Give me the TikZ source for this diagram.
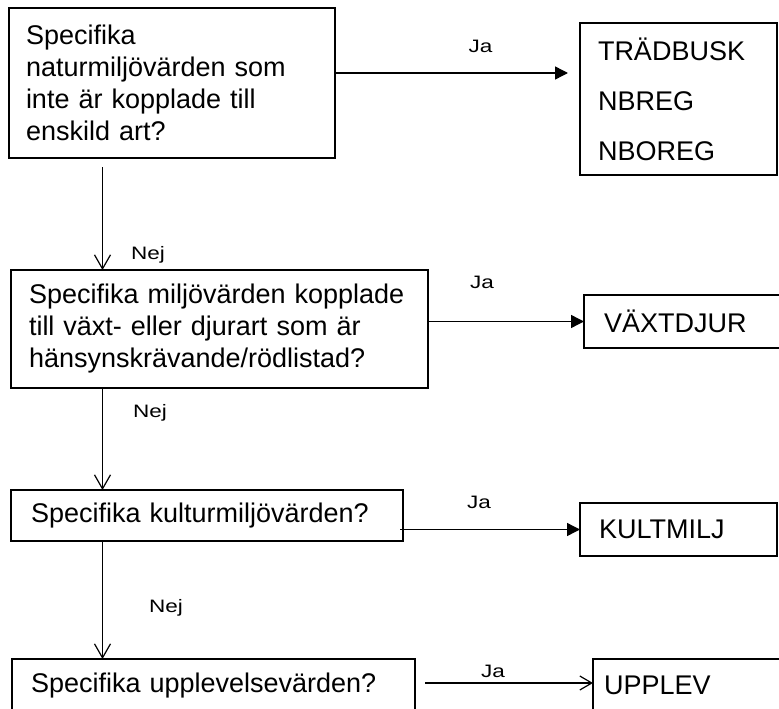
\documentclass[tikz,border=0pt]{standalone}
\usepackage{fontspec}
\setmainfont{Liberation Sans}
\newfontfamily\lblfam[FakeStretch=1.25]{Liberation Sans}
\usetikzlibrary{arrows.meta}
\newcommand\boxfont{\fontsize{27}{32}\selectfont}
\newcommand\listfont{\fontsize{27}{50}\selectfont}
\newcommand\lblfont{\lblfam\fontsize{18}{20}\selectfont}
\tikzset{
  box/.style={draw, line width=1.4pt, rectangle, inner ysep=0pt, outer sep=0pt, align=left, font=\boxfont, anchor=west},
  lbl/.style={font=\lblfont, anchor=base, inner sep=0pt},
  yesarrow/.style={line width=1.4pt, -{Triangle[length=13pt,width=13pt]}},
  noarrow/.style={line width=1.2pt, -{Straight Barb[length=14pt,width=16pt]}},
  noarrowsmall/.style={line width=1.2pt, -{Straight Barb[length=12pt,width=14pt]}},
}
\begin{document}
\begin{tikzpicture}[x=1pt,y=-1pt]
\useasboundingbox (0,0) rectangle (779,709);
\clip (0,0) rectangle (779,709);

% question boxes
\node[box, text width=292pt, inner xsep=17pt, minimum height=150pt] (b1) at (9,83)
  {Specifika\\naturmiljövärden som\\inte är kopplade till\\enskild art?};
\node[box, text width=381pt, inner xsep=18pt, minimum height=118pt] (b2) at (11,329)
  {Specifika miljövärden kopplade\\till växt- eller djurart som är\\hänsynskrävande/rödlistad?};
\node[box, text width=352pt, inner xsep=20pt, minimum height=51pt] (b3) at (11,515.5)
  {Specifika kulturmiljövärden?};
\node[box, text width=365pt, inner xsep=19pt, minimum height=53pt] (b4) at (12,685.5)
  {Specifika upplevelsevärden?};

% result boxes
\node[box, font=\listfont, text width=161pt, inner xsep=18pt, minimum height=152pt] (r1) at (580,99)
  {TRÄDBUSK\\NBREG\\NBOREG};
\node[box, text width=176pt, inner xsep=20pt, minimum height=53pt] (r2) at (584,321.5)
  {VÄXTDJUR};
\node[box, text width=159pt, inner xsep=19pt, minimum height=53pt] (r3) at (580,529.5)
  {KULTMILJ};
\node[box, text width=185pt, inner xsep=11pt, minimum height=53pt] (r4) at (593,685.5)
  {UPPLEV};

% helper coordinates
\coordinate (sp) at (102.5,0);
\coordinate (j1) at (0,73);
\coordinate (j4) at (0,683);

% Nej connectors
\draw[noarrow, shorten <=9pt] (b1.south -| sp) -- (b2.north -| sp);
\draw[noarrow] (b2.south -| sp) -- (b3.north -| sp);
\draw[noarrow] (b3.south -| sp) -- (b4.north -| sp);

% Ja connectors
\draw[yesarrow, shorten >=12pt] (b1.east |- j1) -- (r1.west |- j1);
\draw[yesarrow] (b2.east |- r2.west) -- (r2.west);
\draw[yesarrow, shorten <=-3pt] (b3.east |- r3.west) -- (r3.west);
\draw[noarrowsmall, shorten <=10pt] (b4.east |- j4) -- (r4.west |- j4);

% labels
\node[lbl] (ja1) at (480.5,53) {Ja};
\node[lbl] (ja2) at (482,288) {Ja};
\node[lbl] (ja3) at (479,508) {Ja};
\node[lbl] (ja4) at (493,677) {Ja};
\node[lbl] (nej1) at (148,259) {Nej};
\node[lbl] (nej2) at (150,417) {Nej};
\node[lbl] (nej3) at (166,612) {Nej};
\end{tikzpicture}
\end{document}
